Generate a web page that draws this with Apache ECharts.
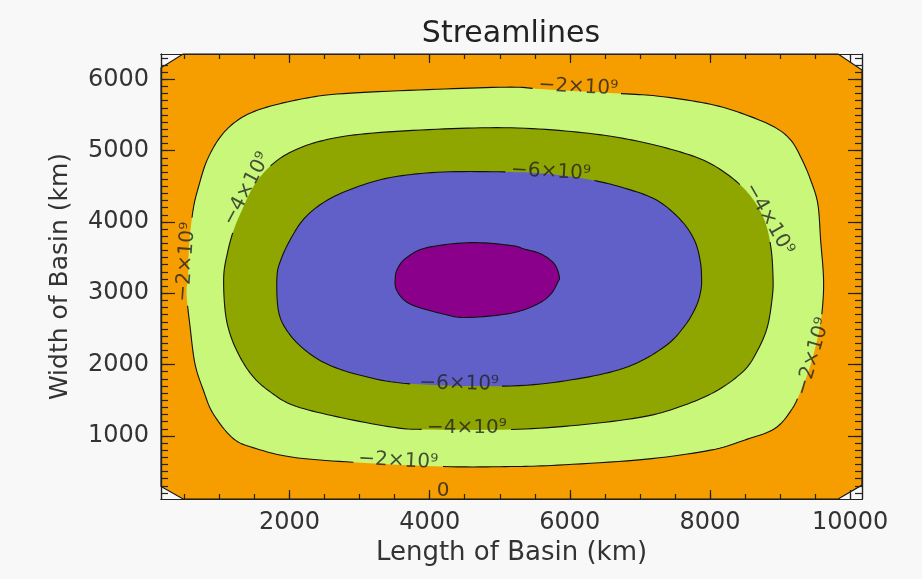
<!DOCTYPE html>
<html>
<head>
<meta charset="utf-8">
<script src="https://cdn.jsdelivr.net/npm/echarts@6/dist/echarts.min.js"></script>
<style>
  html, body { margin: 0; padding: 0; background: #f8f8f8; }
  #chart { width: 922px; height: 579px; }
</style>
</head>
<body>
<div id="chart"></div>
<script>
// contour rings, in km (x = length, y = width)
var ring0 = [[165,290],[165,6160],[480,6355],[9830,6355],[10170,6130],[10170,310],[9830,115],[480,115]];
var ring2 = [[5160,5890],[5640,5860],[6730,5800],[7300,5760],[8010,5650],[8490,5510],[8920,5330],[9160,5140],[9320,4860],[9440,4580],[9540,4250],[9580,3740],[9620,3230],[9610,2850],[9560,2480],[9440,2010],[9300,1640],[9160,1360],[8920,1100],[8490,940],[8010,800],[7060,670],[5830,590],[5160,570],[4190,570],[2910,630],[2050,700],[1530,820],[1200,960],[910,1310],[770,1640],[650,2010],[580,2530],[530,2990],[550,3230],[560,3550],[580,3830],[630,4210],[700,4490],[820,4860],[1010,5190],[1250,5420],[1580,5580],[2150,5720],[2770,5800],[4100,5860]];
var ring4 = [[5160,5320],[6110,5260],[6830,5160],[7440,5020],[7920,4860],[8300,4630],[8590,4350],[8780,4020],[8870,3640],[8900,3230],[8890,2950],[8820,2530],[8680,2200],[8490,1920],[8110,1640],[7630,1430],[7060,1270],[6110,1150],[5160,1090],[3960,1090],[3480,1120],[2670,1270],[2050,1430],[1720,1620],[1480,1830],[1290,2110],[1150,2430],[1080,2760],[1060,3230],[1110,3550],[1200,3880],[1340,4210],[1480,4490],[1680,4740],[1960,4950],[2390,5120],[3010,5230],[4100,5300]];
var ring6 = [[5160,4700],[5730,4670],[6350,4580],[6830,4460],[7250,4300],[7590,4020],[7780,3740],[7860,3460],[7880,3230],[7870,3040],[7800,2810],[7630,2530],[7350,2250],[6830,1970],[6110,1800],[5160,1700],[3720,1730],[3010,1850],[2530,2010],[2200,2220],[1960,2480],[1840,2760],[1820,3230],[1880,3480],[2020,3770],[2220,4060],[2530,4300],[2960,4490],[3480,4630],[4190,4700]];
var ring8 = [[5160,3670],[5350,3620],[5590,3550],[5780,3410],[5850,3230],[5830,3160],[5730,2990],[5540,2850],[5160,2720],[4530,2660],[4190,2710],[3720,2850],[3530,3040],[3510,3230],[3550,3360],[3670,3500],[3960,3640],[4590,3710]];

var rings = [ring0, ring2, ring4, ring6, ring8];
var fills = ['#f69e00', '#c8f77a', '#8fa600', '#6060c8', '#8b008b'];

// contour labels (which ring each one sits on)
var labelText = ['−2×10⁹', '−2×10⁹', '−2×10⁹', '−2×10⁹', '−4×10⁹', '−4×10⁹', '−4×10⁹', '−6×10⁹', '−6×10⁹', '0'];
var labelPos = [[6120,5890],[3550,650],[520,3440],[9470,2110],[1390,4460],[8840,4040],[4530,1110],[5730,4700],[4420,1730],[4190,230]];
var labelAngle = [-3, -3, 86, 74, 62, -60, 0, -3, -1, 0];
var labelRing = [1, 1, 1, 1, 2, 2, 2, 3, 3, -1];

var xMajor = [2000, 4000, 6000, 8000, 10000];
var yMajor = [1000, 2000, 3000, 4000, 5000, 6000];
var xMinor = [];
for (var i = 500; i <= 10000; i += 500) xMinor.push(i);
var yMinor = [];
for (var j = 200; j <= 6300; j += 100) yMinor.push(j);

var XMIN = 165, XMAX = 10170, YMIN = 115, YMAX = 6355;
var ink = '#222';
var font = '"DejaVu Sans"';
var labelSize = 20;

var measure = document.createElement('canvas').getContext('2d');
measure.font = labelSize + 'px ' + font;

// closed catmull-rom through the picked points, in pixels
function smoothRing(pts, steps) {
  var out = [], n = pts.length;
  for (var i = 0; i < n; i++) {
    var p0 = pts[(i - 1 + n) % n], p1 = pts[i], p2 = pts[(i + 1) % n], p3 = pts[(i + 2) % n];
    for (var s = 0; s < steps; s++) {
      var t = s / steps, t2 = t * t, t3 = t2 * t;
      out.push([0, 1].map(function (d) {
        return 0.5 * ((2 * p1[d]) + (-p0[d] + p2[d]) * t +
          (2 * p0[d] - 5 * p1[d] + 4 * p2[d] - p3[d]) * t2 +
          (-p0[d] + 3 * p1[d] - 3 * p2[d] + p3[d]) * t3);
      }));
    }
  }
  return out;
}

function inLabel(p, boxes) {
  for (var b = 0; b < boxes.length; b++) {
    var bx = boxes[b], dx = p[0] - bx.c[0], dy = p[1] - bx.c[1];
    var u = dx * bx.cos - dy * bx.sin, v = dx * bx.sin + dy * bx.cos;
    if (Math.abs(u) < bx.hw && Math.abs(v) < bx.hh) return true;
  }
  return false;
}

function xAx(pos, ticks, len, labels) {
  return {
    type: 'value', position: pos, min: XMIN, max: XMAX, z: 10,
    axisLine: { show: true, onZero: false, lineStyle: { color: ink, width: 1.2 } },
    axisTick: { show: true, inside: true, length: len, customValues: ticks, lineStyle: { color: ink, width: 1.2 } },
    axisLabel: labels ? { customValues: xMajor, formatter: function (v) { return String(v); },
      color: '#333', fontSize: 24, fontFamily: font, margin: 12 } : { show: false },
    splitLine: { show: false }
  };
}
function yAx(pos, ticks, len, labels) {
  return {
    type: 'value', position: pos, min: YMIN, max: YMAX, z: 10,
    axisLine: { show: true, onZero: false, lineStyle: { color: ink, width: 1.2 } },
    axisTick: { show: true, inside: true, length: len, customValues: ticks, lineStyle: { color: ink, width: 1.2 } },
    axisLabel: labels ? { customValues: yMajor, formatter: function (v) { return String(v); },
      color: '#333', fontSize: 24, fontFamily: font, margin: 12 } : { show: false },
    splitLine: { show: false }
  };
}

var xAxes = [xAx('bottom', xMajor, 9, true), xAx('bottom', xMinor, 5, false), xAx('top', xMajor, 9, false), xAx('top', xMinor, 5, false)];
xAxes[0].name = 'Length of Basin (km)';
xAxes[0].nameLocation = 'middle';
xAxes[0].nameGap = 40;
xAxes[0].nameTextStyle = { color: '#333', fontSize: 26, fontFamily: font };

var yAxes = [yAx('left', yMajor, 14, true), yAx('left', yMinor, 7, false), yAx('right', yMajor, 14, false), yAx('right', yMinor, 7, false)];
yAxes[0].name = 'Width of Basin (km)';
yAxes[0].nameLocation = 'middle';
yAxes[0].nameGap = 88;
yAxes[0].nameTextStyle = { color: '#333', fontSize: 25, fontFamily: font };

var option = {
  backgroundColor: '#f8f8f8',
  animation: false,
  title: {
    text: 'Streamlines', left: 506, top: 14, textAlign: 'center',
    textStyle: { color: '#222', fontSize: 30, fontWeight: 'normal', fontFamily: font }
  },
  grid: { left: 161, top: 54, width: 701, height: 445 },
  xAxis: xAxes,
  yAxis: yAxes,
  series: [{
    type: 'custom',
    xAxisIndex: 0, yAxisIndex: 0,
    data: rings.map(function (r, k) { return [r[0][0], r[0][1], k]; }),
    renderItem: function (params, api) {
      var k = params.dataIndex;
      var pts = rings[k].map(function (p) { return api.coord(p); });
      var dense = k === 0 ? pts : smoothRing(pts, 10);
      var boxes = [];
      labelPos.forEach(function (lp, m) {
        if (labelRing[m] !== k) return;
        var a = labelAngle[m] * Math.PI / 180;
        boxes.push({ c: api.coord(lp), cos: Math.cos(a), sin: Math.sin(a),
          hw: measure.measureText(labelText[m]).width / 2 + 3, hh: labelSize * 0.5 });
      });
      var children = [{
        type: 'polygon', shape: { points: dense },
        style: { fill: fills[k], stroke: boxes.length ? null : '#111', lineWidth: 1.1 }
      }];
      if (boxes.length) {
        var keep = dense.map(function (p) { return !inLabel(p, boxes); });
        var n = dense.length, start = keep.indexOf(false), run = [];
        for (var s = 1; s <= n; s++) {
          var q = (start + s) % n;
          if (keep[q]) { run.push(dense[q]); }
          else if (run.length) {
            children.push({ type: 'polyline', shape: { points: run }, style: { fill: null, stroke: '#111', lineWidth: 1.1 } });
            run = [];
          }
        }
        if (run.length) children.push({ type: 'polyline', shape: { points: run }, style: { fill: null, stroke: '#111', lineWidth: 1.1 } });
      }
      return { type: 'group', children: children };
    },
    z: 1
  }, {
    type: 'scatter',
    xAxisIndex: 0, yAxisIndex: 0,
    symbolSize: 0,
    z: 3,
    data: labelPos.map(function (p, k) {
      return {
        value: p,
        label: { show: true, position: 'inside', formatter: labelText[k], rotate: labelAngle[k],
                 color: '#222', fontSize: labelSize, fontFamily: font }
      };
    })
  }]
};

var chart = echarts.init(document.getElementById('chart'));
chart.setOption(option);
</script>
</body>
</html>
